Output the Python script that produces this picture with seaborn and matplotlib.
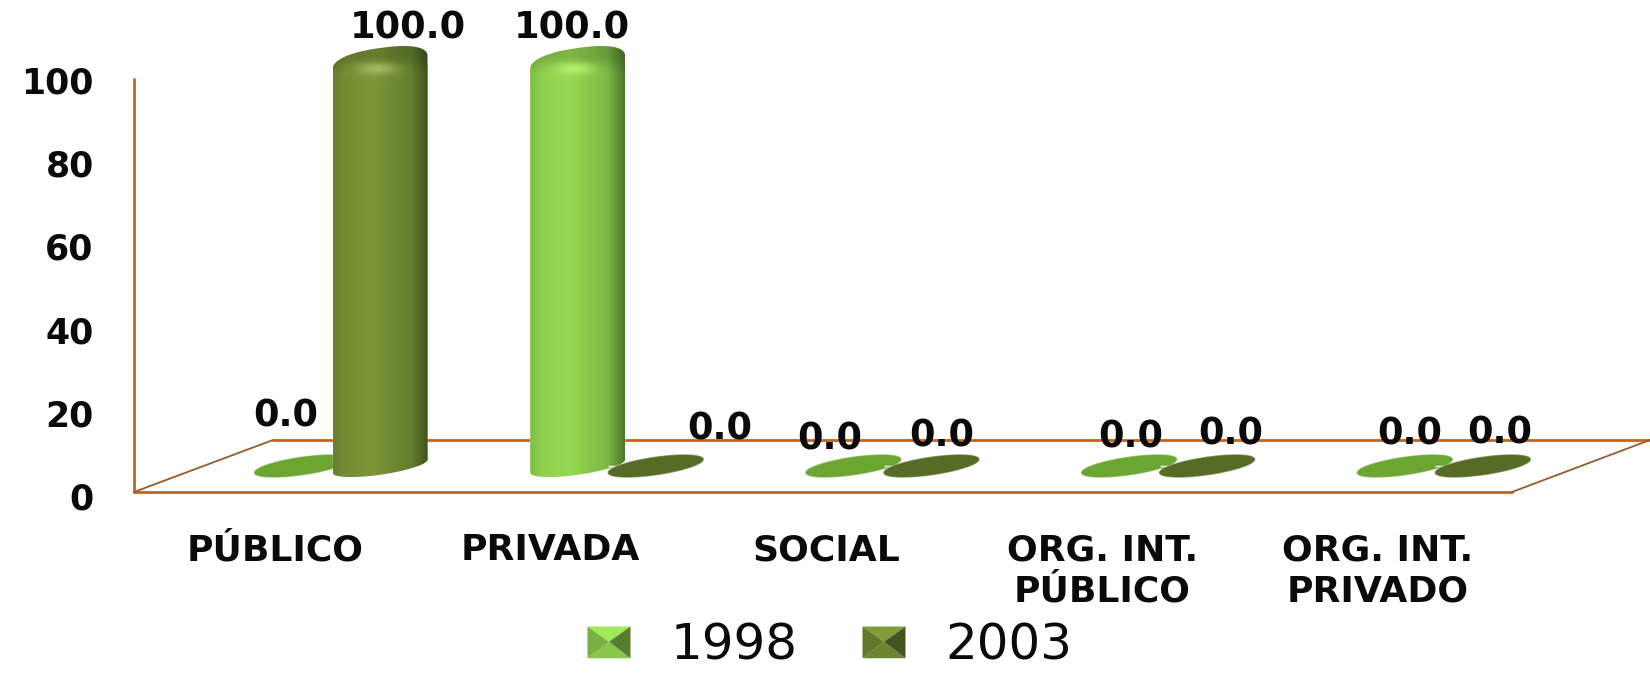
import numpy as np
import pandas as pd
import matplotlib
matplotlib.use('Agg')
import matplotlib.pyplot as plt
import matplotlib.colors as mcolors
from matplotlib.legend_handler import HandlerBase
from matplotlib.patches import Patch, PathPatch, Polygon
from matplotlib.path import Path
import seaborn as sns

# datos
sectores = ['PÚBLICO', 'PRIVADA', 'SOCIAL', 'ORG. INT.\nPÚBLICO', 'ORG. INT.\nPRIVADO']
valores_1998 = [0.0, 100.0, 0.0, 0.0, 0.0]
valores_2003 = [100.0, 0.0, 0.0, 0.0, 0.0]
anios = ['1998', '2003']
ticks_y = [0, 20, 40, 60, 80, 100]

# estilo
W, H = 1650, 674
NARANJA = '#C2661F'
NEGRO = '#0A0A0A'
colores = {'1998': '#8FD04F', '2003': '#738C33'}
elipse_color = {'1998': '#6CA632', '2003': '#566C26'}
brillo = {'1998': '#B5F06A', '2003': '#A3B862'}
perfil = {'1998': ['#82BE45', '#8FD04F', '#96D952', '#7DB845', '#4D7A2B'],
          '2003': ['#66812E', '#738C33', '#7C9638', '#64802E', '#3F551F']}
# desplazamiento de cada etiqueta (pixeles) respecto a su barra
offset_1998 = [(-16, 50), (-6, 35), (-24, 27), (2, 29), (5, 32)]
offset_2003 = [(28, 35), (64, 37), (10, 30), (24, 32), (17, 33)]

sns.set_theme(style='white')
plt.rcParams['font.family'] = ['DejaVu Sans']

PX_X = 275.7
PX_Y = 4.03
X0, Y0 = 341, 466
A_PX = 47.5
PENDIENTE = 0.14


def caja(fig, izq, arriba, der, abajo):
    return fig.add_axes([izq / W, 1 - abajo / H, (der - izq) / W, (abajo - arriba) / H])


def elipse(cx, cy_px, b_px, t, redondez=1.0):
    # elipse inclinada, devuelve coords de datos; redondez < 1 cuadra los hombros
    cos_t, sin_t = np.cos(t), np.sin(t)
    xp = A_PX * np.sign(cos_t) * np.abs(cos_t) ** redondez
    yp = b_px * np.sign(sin_t) * np.abs(sin_t) ** redondez - PENDIENTE * xp
    return np.column_stack([cx + xp / PX_X, (Y0 - (cy_px + yp)) / PX_Y])


class HandlerPiramide(HandlerBase):
    def create_artists(self, legend, orig_handle, xdescent, ydescent, width, height, fontsize, trans):
        c = np.array(mcolors.to_rgb(orig_handle.get_facecolor()))
        x0, y0 = -xdescent, -ydescent
        x1, y1 = x0 + width, y0 + height
        xc, yc = x0 + width / 2, y0 + height * 0.52
        caras = [([(x0, y1), (x1, y1), (xc, yc)], np.clip(c * 1.12, 0, 1)),
                 ([(x0, y0), (x1, y0), (xc, yc)], c * 0.95),
                 ([(x0, y0), (x0, y1), (xc, yc)], c * 0.85),
                 ([(x1, y0), (x1, y1), (xc, yc)], c * 0.6)]
        return [Polygon(v, closed=True, fc=col, ec='none', transform=trans) for v, col in caras]


df = pd.DataFrame({
    'sector': sectores * 2,
    'valor': valores_1998 + valores_2003,
    'anio': ['1998'] * 5 + ['2003'] * 5,
})

fig = plt.figure(figsize=(W / 100, H / 100), dpi=100, facecolor='white')

# piso y pared, en pixeles
ax_piso = fig.add_axes([0, 0, 1, 1], zorder=0)
ax_piso.set_xlim(0, W)
ax_piso.set_ylim(H, 0)
ax_piso.axis('off')
ax_piso.plot([134, 134], [79, 492], color=NARANJA, lw=2.0)
ax_piso.plot([134, 1512], [492, 492], color=NARANJA, lw=2.0)
ax_piso.plot([273, 1650], [440, 440], color=NARANJA, lw=2.0)
ax_piso.plot([134, 273], [492, 440], color='#9A5A30', lw=1.3)
ax_piso.plot([1512, 1650], [492, 440], color='#9A5A30', lw=1.3)

# ejes: solo rotulos
ax_ejes = caja(fig, 134, 80, 1512, 496)
ax_ejes.set_zorder(1)
ax_ejes.patch.set_visible(False)
sns.despine(ax=ax_ejes, left=True, bottom=True)
ax_ejes.set_ylim(0, 100)
ax_ejes.set_xlim((134 - 275) / PX_X, (1512 - 275) / PX_X)
ax_ejes.set_yticks(ticks_y)
ax_ejes.set_yticklabels([str(t) for t in ticks_y], fontsize=25, fontweight='bold', color=NEGRO)
ax_ejes.set_xticks(range(len(sectores)))
ax_ejes.set_xticklabels(sectores, fontsize=26, fontweight='bold', color=NEGRO, linespacing=1.25)
ax_ejes.tick_params(axis='y', length=0, pad=29)
ax_ejes.tick_params(axis='x', length=0, pad=27)
ax_ejes.grid(False)

# barras
ax = fig.add_axes([0, 0, 1, 1], zorder=2)
ax.patch.set_visible(False)
sns.barplot(data=df, x='sector', y='valor', hue='anio', hue_order=anios, order=sectores,
            palette=colores, width=0.566, gap=0, errorbar=None, legend=False, ax=ax)
ax.set_xlim((0 - X0) / PX_X, (W - X0) / PX_X)
ax.set_ylim((Y0 - H) / PX_Y, Y0 / PX_Y)
ax.axis('off')

t_arriba = np.linspace(np.pi, 2 * np.pi, 60)
t_abajo = np.linspace(0, np.pi, 60)
z = 3
for anio, cont, offsets in zip(anios, ax.containers, [offset_1998, offset_2003]):
    for barra, (dx, dy) in zip(cont.patches, offsets):
        cx = barra.get_x() + barra.get_width() / 2
        alto = barra.get_height()
        ancho = 2 * A_PX / PX_X
        barra.set_x(cx - ancho / 2)
        barra.set_width(ancho)
        barra.set_zorder(z)
        if alto > 0:
            y_sup = Y0 - alto * PX_Y
            verts = np.vstack([elipse(cx, y_sup, 15, t_arriba, redondez=0.85),
                               elipse(cx, Y0, 8.8, t_abajo)])
            contorno = PathPatch(Path(np.vstack([verts, verts[:1]])), fc='none', ec='none',
                                 transform=ax.transData, zorder=z)
            ax.add_patch(contorno)
            barra.set_clip_path(contorno)

            # sombreado del cilindro
            filas = int(Y0 - y_sup) + 40
            cols = int(2 * A_PX)
            u = np.linspace(0, 1, cols)
            rgb_stops = np.array([mcolors.to_rgb(c) for c in perfil[anio]])
            fila = np.column_stack([np.interp(u, [0, 0.12, 0.42, 0.82, 1], rgb_stops[:, k]) for k in range(3)])
            img = np.repeat(fila[None, :, :], filas, axis=0)
            yy = np.arange(filas)[:, None] + y_sup - 20
            xx = np.arange(cols)[None, :] - cols / 2
            oscuro = np.clip((yy - (y_sup - 6)) / 18, 0, 1) * 0.16 + 0.84
            img = img * oscuro[:, :, None]
            g = np.exp(-((xx + 4) / 20) ** 2 - ((yy - (y_sup + 6)) / 6) ** 2)[:, :, None]
            img = img * (1 - g) + np.array(mcolors.to_rgb(brillo[anio])) * g
            im = ax.imshow(img, extent=(cx - ancho / 2, cx + ancho / 2,
                                        (Y0 - (y_sup + filas - 20)) / PX_Y, (Y0 - (y_sup - 20)) / PX_Y),
                           aspect='auto', origin='upper', zorder=z + 0.5, interpolation='bilinear')
            im.set_clip_path(contorno)
        else:
            t = np.linspace(0, 2 * np.pi, 120)
            ax.add_patch(Polygon(elipse(cx, Y0, 8.8, t), closed=True, fc=elipse_color[anio],
                                 ec=mcolors.to_rgba(elipse_color[anio], 0.6), lw=1, zorder=z + 0.5))
        ax.annotate(f'{alto:.1f}', xy=(cx, alto), xytext=(dx, dy), textcoords='offset pixels',
                    ha='center', va='center', fontsize=26.5, fontweight='bold', color=NEGRO,
                    zorder=30)
        z += 1
ax.set_xlim((0 - X0) / PX_X, (W - X0) / PX_X)
ax.set_ylim((Y0 - H) / PX_Y, Y0 / PX_Y)

# leyenda
manejadores = [Patch(facecolor=colores[a]) for a in anios]
ax.legend(manejadores, anios, handler_map={Patch: HandlerPiramide()}, ncols=2, frameon=False,
          loc='center', bbox_to_anchor=(830 / W, 1 - 646 / H), bbox_transform=fig.transFigure,
          fontsize=36, handlelength=0.86, handleheight=0.6, handletextpad=0.8, columnspacing=1.3,
          labelcolor=NEGRO, borderpad=0, borderaxespad=0)

fig.savefig('out.png', dpi=100)
